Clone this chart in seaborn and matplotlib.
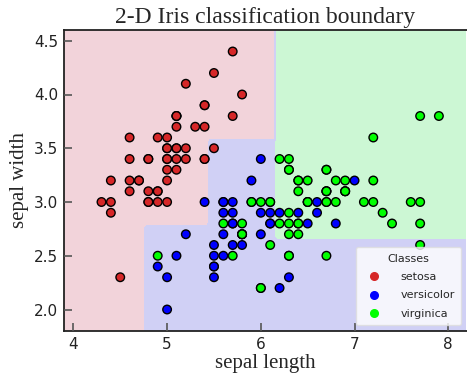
import numpy as np
import pandas as pd
import matplotlib.pyplot as plt
import seaborn as sns
from matplotlib.lines import Line2D

# Iris data: sepal length / sepal width per class
classes = ['setosa', 'versicolor', 'virginica']

setosa_len = [5.1, 4.9, 4.7, 4.6, 5.0, 5.4, 4.6, 5.0, 4.4, 4.9, 5.4, 4.8, 4.8, 4.3, 5.8, 5.7, 5.4,
              5.1, 5.7, 5.1, 5.4, 5.1, 4.6, 5.1, 4.8, 5.0, 5.0, 5.2, 5.2, 4.7, 4.8, 5.4, 5.2, 5.5,
              4.9, 5.0, 5.5, 4.9, 4.4, 5.1, 5.0, 4.5, 4.4, 5.0, 5.1, 4.8, 5.1, 4.6, 5.3, 5.0]
setosa_wid = [3.5, 3.0, 3.2, 3.1, 3.6, 3.9, 3.4, 3.4, 2.9, 3.1, 3.7, 3.4, 3.0, 3.0, 4.0, 4.4, 3.9,
              3.5, 3.8, 3.8, 3.4, 3.7, 3.6, 3.3, 3.4, 3.0, 3.4, 3.5, 3.4, 3.2, 3.1, 3.4, 4.1, 4.2,
              3.1, 3.2, 3.5, 3.6, 3.0, 3.4, 3.5, 2.3, 3.2, 3.5, 3.8, 3.0, 3.8, 3.2, 3.7, 3.3]

versicolor_len = [7.0, 6.4, 6.9, 5.5, 6.5, 5.7, 6.3, 4.9, 6.6, 5.2, 5.0, 5.9, 6.0, 6.1, 5.6, 6.7, 5.6,
                  5.8, 6.2, 5.6, 5.9, 6.1, 6.3, 6.1, 6.4, 6.6, 6.8, 6.7, 6.0, 5.7, 5.5, 5.5, 5.8, 6.0,
                  5.4, 6.0, 6.7, 6.3, 5.6, 5.5, 5.5, 6.1, 5.8, 5.0, 5.6, 5.7, 5.7, 6.2, 5.1, 5.7]
versicolor_wid = [3.2, 3.2, 3.1, 2.3, 2.8, 2.8, 3.3, 2.4, 2.9, 2.7, 2.0, 3.0, 2.2, 2.9, 2.9, 3.1, 3.0,
                  2.7, 2.2, 2.5, 3.2, 2.8, 2.5, 2.8, 2.9, 3.0, 2.8, 3.0, 2.9, 2.6, 2.4, 2.4, 2.7, 2.7,
                  3.0, 3.4, 3.1, 2.3, 3.0, 2.5, 2.6, 3.0, 2.6, 2.3, 2.7, 3.0, 2.9, 2.9, 2.5, 2.8]

virginica_len = [6.3, 5.8, 7.1, 6.3, 6.5, 7.6, 4.9, 7.3, 6.7, 7.2, 6.5, 6.4, 6.8, 5.7, 5.8, 6.4, 6.5,
                 7.7, 7.7, 6.0, 6.9, 5.6, 7.7, 6.3, 6.7, 7.2, 6.2, 6.1, 6.4, 7.2, 7.4, 7.9, 6.4, 6.3,
                 6.1, 7.7, 6.3, 6.4, 6.0, 6.9, 6.7, 6.9, 5.8, 6.8, 6.7, 6.7, 6.3, 6.5, 6.2, 5.9]
virginica_wid = [3.3, 2.7, 3.0, 2.9, 3.0, 3.0, 2.5, 2.9, 2.5, 3.6, 3.2, 2.7, 3.0, 2.5, 2.8, 3.2, 3.0,
                 3.8, 2.6, 2.2, 3.2, 2.8, 2.8, 2.7, 3.3, 3.2, 2.8, 3.0, 2.8, 3.0, 2.8, 3.8, 2.8, 2.8,
                 2.6, 3.0, 3.4, 3.1, 3.0, 3.1, 3.1, 3.1, 2.7, 3.2, 3.3, 3.0, 2.5, 3.0, 3.4, 3.0]

# split thresholds of the classifier
root_len = 5.45
left_wid = 2.8
left_len = 4.75
mid_len = 6.15
mid_wid = 3.6
right_wid = 2.65

point_colors = ['#d62728', '#0000ff', '#00ff00']
region_colors = ['#f2d3da', '#d0d0f5', '#ccf7d4']

df = pd.DataFrame({
    'sepal length': setosa_len + versicolor_len + virginica_len,
    'sepal width': setosa_wid + versicolor_wid + virginica_wid,
    'species': ['setosa'] * 50 + ['versicolor'] * 50 + ['virginica'] * 50,
})


def predict(x, y):
    left = np.where(y <= left_wid, np.where(x <= left_len, 0, 1), 0)
    mid = np.where(y <= mid_wid, 1, 0)
    right = np.where(y <= right_wid, 1, 2)
    return np.where(x <= root_len, left, np.where(x <= mid_len, mid, right))


x_min, x_max = 3.9, 8.2
y_min, y_max = 1.8, 4.6
xx, yy = np.meshgrid(np.arange(x_min, x_max + 0.01, 0.04), np.arange(y_min, y_max + 0.01, 0.04))
Z = predict(xx, yy)

sns.set_style('ticks')
fig = plt.figure(figsize=(4.67, 3.77), dpi=100)
ax = fig.add_axes([64 / 467, 46 / 377, 403 / 467, 301 / 377])

ax.contourf(xx, yy, Z, levels=[-0.5, 0.5, 1.5, 2.5], colors=region_colors)

sns.scatterplot(data=df, x='sepal length', y='sepal width', hue='species',
                palette=point_colors, s=38, edgecolor='black', linewidth=1.0,
                legend=False, ax=ax)

ax.set_axisbelow(False)
ax.set_xlim(x_min, x_max)
ax.set_ylim(y_min, y_max)
ax.set_xticks([4, 5, 6, 7, 8])
ax.set_yticks([2.0, 2.5, 3.0, 3.5, 4.0, 4.5])
ax.tick_params(direction='in', length=6, width=1.2, color='#555555',
               labelsize=11, labelcolor='#222222', pad=4)
for side in ['left', 'bottom', 'top']:
    ax.spines[side].set_color('#222222')
    ax.spines[side].set_linewidth(1.3)
ax.spines['right'].set_visible(False)

serif = ['Liberation Serif', 'DejaVu Serif']
ax.set_title('2-D Iris classification boundary', family=serif, fontsize=17, pad=5)
ax.set_xlabel('sepal length', family=serif, fontsize=15, labelpad=2)
ax.set_ylabel('sepal width', family=serif, fontsize=15, labelpad=4)

handles = [Line2D([], [], marker='o', linestyle='none', markersize=5.5,
                  markerfacecolor=c, markeredgecolor=c) for c in point_colors]
ax.legend(handles, classes, title='Classes', loc='lower right', fontsize=8,
          title_fontsize=8, handletextpad=1.4, labelspacing=0.75, borderpad=0.6,
          edgecolor='#dddddd')

fig.savefig('out.png', dpi=100)
